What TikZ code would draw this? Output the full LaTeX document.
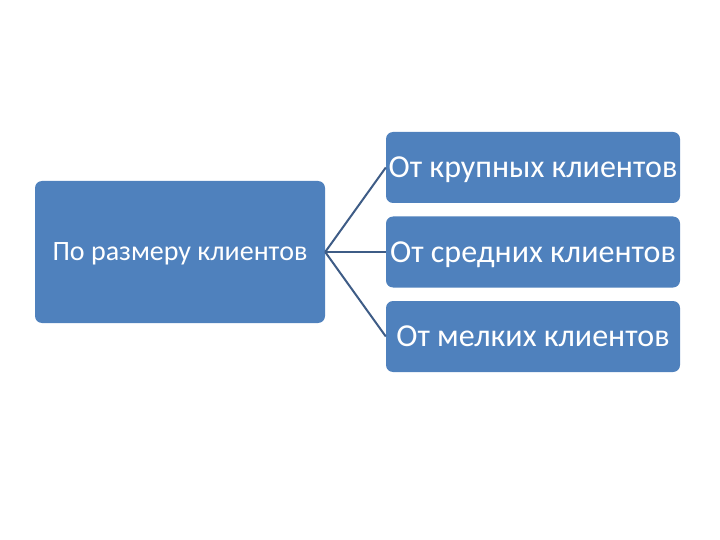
\documentclass[tikz,border=0pt]{standalone}
\usepackage{fontspec}
\setmainfont{Carlito}
\definecolor{boxblue}{HTML}{4F81BD}
\definecolor{linkblue}{HTML}{3E5C86}
\tikzset{
  group/.style={draw=none, fill=boxblue, rounded corners=7pt, text=white, text depth=0pt,
    inner sep=0pt, minimum width=290pt, minimum height=142pt, font=\fontsize{28}{32}\selectfont},
  item/.style={draw=none, fill=boxblue, rounded corners=7pt, text=white, text depth=0pt,
    inner sep=0pt, minimum width=294pt, minimum height=71pt, font=\fontsize{32}{36}\selectfont},
  link/.style={draw=linkblue, line width=2pt}
}
\begin{document}
\begin{tikzpicture}[x=1pt,y=-1pt]
\useasboundingbox (0,0) rectangle (720,540);
\path node[group] (size) at (180,252) {По размеру клиентов}
node[item] (big) at (533,167.5) {От крупных клиентов}
node[item] (mid) at (533,252) {От средних клиентов}
node[item] (small) at (533,336.5) {От мелких клиентов}
;
\draw[link] (size.east) -- (big.west);
\draw[link] (size.east) -- (mid.west);
\draw[link] (size.east) -- (small.west);
\end{tikzpicture}
\end{document}
